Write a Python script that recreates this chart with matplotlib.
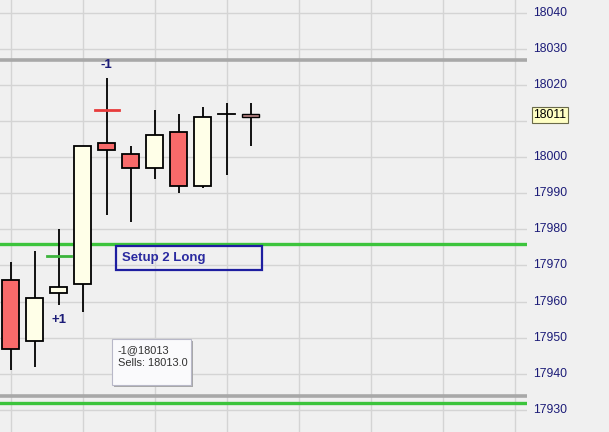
#!/usr/bin/env python3
"""candlestick chart with trade markers and setup levels"""

import numpy as np
import matplotlib

matplotlib.use("Agg")
import matplotlib.pyplot as plt
from matplotlib.patches import Rectangle

#
# DATA
#
opens = [17966, 17949, 17962.5, 17965, 18004, 18001, 17997, 18007, 17992, 18012, 18012]
highs = [17971, 17974, 17980, 18003, 18022, 18003, 18013, 18012, 18014, 18015, 18015]
lows = [17941, 17942, 17959, 17957, 17984, 17982, 17994, 17990, 17991.5, 17995, 18003]
closes = [17947, 17961, 17964, 18003, 18002, 17997, 18006, 17992, 18011, 18012, 18011.1]

buy_bar, buy_price = 2, 17972.5
sell_bar, sell_price = 4, 18013

grey_levels = [18027, 17934]
green_levels = [17976, 17932]

y_ticks = [17930, 17940, 17950, 17960, 17970, 17980, 17990, 18000, 18010, 18020, 18030, 18040]
last_price = 18011

BG = "#f0f0f0"
GRID = "#d4d4d4"
RED = "#f86a6a"
CREAM = "#ffffe8"
NAVY = "#1c1c78"

#
# FIGURE
#
fig = plt.figure(figsize=(6.09, 4.32), dpi=100, facecolor=BG)
ax = fig.add_axes([0, 0, 527 / 609, 1])
ax.set_facecolor(BG)
for s in ax.spines.values():
    s.set_visible(False)

ax.set_xlim(-0.446, 21.51)
ax.set_ylim(17923.9, 18043.5)

# grid
for t in y_ticks:
    ax.axhline(t, color=GRID, lw=1, zorder=0)
for i in range(0, 22, 3):
    ax.axvline(i, color=GRID, lw=1, zorder=0)

# levels
for lv in grey_levels:
    ax.axhline(lv, color="#a8a8a8", lw=2.6, zorder=1)
for lv in green_levels:
    ax.axhline(lv, color="#3cc43c", lw=2.4, zorder=1)

# candles
w = 0.71
for i, (o, h, l, c) in enumerate(zip(opens, highs, lows, closes)):
    ax.plot([i, i], [l, h], color="black", lw=1.3, zorder=2, solid_capstyle="butt")
    if i == len(opens) - 1:
        fc = "#c48c8c"
        lw = 1.0
    elif c >= o:
        fc = CREAM
        lw = 1.3
    else:
        fc = RED
        lw = 1.3
    bot = min(o, c)
    hgt = abs(c - o)
    if hgt < 0.2:
        ax.plot([i - w / 2, i + w / 2], [o, o], color="black", lw=1.3, zorder=3)
    else:
        ax.add_patch(Rectangle((i - w / 2, bot), w, hgt, facecolor=fc, edgecolor="black", lw=lw, zorder=3))

# trade markers
ax.plot([buy_bar - 0.5, buy_bar + 0.5], [buy_price, buy_price], color="#3cb43c", lw=2, zorder=4)
ax.plot([sell_bar - 0.5, sell_bar + 0.5], [sell_price, sell_price], color="#e83c3c", lw=2, zorder=4)
ax.text(buy_bar, 17955.0, "+1", color=NAVY, fontsize=9.5, fontweight="bold", ha="center", va="center",
        family="Liberation Sans", zorder=5)
ax.text(sell_bar, 18025.4, "-1", color=NAVY, fontsize=9.5, fontweight="bold", ha="center", va="center",
        family="Liberation Sans", zorder=5)

# setup box
ax.add_patch(Rectangle((4.4, 17968.7), 6.05, 6.7, facecolor="none", edgecolor="#1e1ea0", lw=1.6, zorder=6))
ax.text(4.65, 17972.1, "Setup 2 Long", color="#2a2aa0", fontsize=9.5, fontweight="bold", va="center",
        ha="left", family="Liberation Sans", zorder=6)

# tooltip
ax.add_patch(Rectangle((4.29, 17936.3), 3.3, 12.7, facecolor="#a8a8a8", edgecolor="none", zorder=6))
ax.add_patch(Rectangle((4.2, 17936.9), 3.3, 12.7, facecolor="#fafafc", edgecolor="#b8b8c8", lw=0.8, zorder=7))
ax.text(4.45, 17946.6, "-1@18013", fontsize=7.9, color="#303030", va="center", family="Liberation Sans", zorder=8)
ax.text(4.45, 17942.9, "Sells: 18013.0", fontsize=7.9, color="#303030", va="center", family="Liberation Sans",
        zorder=8)

# right price axis
ax.set_xticks([])
ax.set_yticks([])
for t in y_ticks:
    ax.text(21.75, t, str(t), color=NAVY, fontsize=8.8, va="center", ha="left",
            family="Liberation Sans", clip_on=False)
ax.text(21.78, last_price + 0.6, str(last_price), color="black", fontsize=8.8, va="center", ha="left",
        family="Liberation Sans", clip_on=False, zorder=10,
        bbox=dict(boxstyle="square,pad=0.15", facecolor="#ffffc4", edgecolor="#6a6a4a", lw=0.8))

fig.savefig("out.png", dpi=100, facecolor=BG)
